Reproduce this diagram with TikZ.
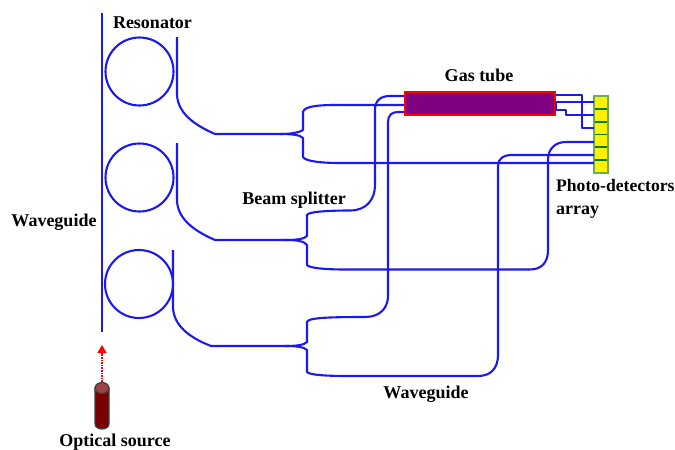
\documentclass[tikz,border=0pt]{standalone}
\usepackage{fontspec}
\setmainfont{Liberation Serif}
\usetikzlibrary{arrows.meta,shapes.geometric}
\definecolor{wg}{HTML}{1A1AF0}
\definecolor{tubefill}{HTML}{800080}
\definecolor{srcred}{HTML}{7A0000}
\definecolor{srctop}{HTML}{A04048}
\definecolor{cellline}{HTML}{0A7A0A}
\definecolor{celledge}{HTML}{70AD47}
\tikzset{
  guide/.style={draw=wg,line width=2.1pt,line join=round},
  lab/.style={font=\fontsize{18}{20}\selectfont\bfseries,text=black,inner sep=0pt},
  ring/.style={circle,draw=wg,line width=2.1pt,minimum size=68pt,inner sep=0pt},
  cell/.style={draw=cellline,fill=yellow,line width=1.8pt,minimum width=14pt,minimum height=12.8pt,inner sep=0pt}
}
\begin{document}
\begin{tikzpicture}[x=1pt,y=-1pt]
\useasboundingbox (0,0) rectangle (675,450);
% coordinates
\coordinate (wtop) at (102,13); \coordinate (wbot) at (102,332);
% rings
\node[ring] (r1) at (139.5,71.5) {};
\node[ring] (r2) at (139.5,177.5) {};
\node[ring] (r3) at (139,284) {};
\draw[guide] (wtop) -- (wbot);
% detector
\foreach \i/\y in {1/102.4,2/115.3,3/128.1,4/140.9,5/153.8,6/166.6}{
  \node[cell] (d\i) at (601,\y) {};
}
\draw[celledge,line width=1.6pt] (594,96) rectangle (608,173);
% tube ports
\node[draw=red,fill=tubefill,line width=2pt,minimum width=150pt,minimum height=23pt,inner sep=0pt] (tube) at (480,103) {};
% bus 1
\draw[guide] (177,37) -- (177,95) .. controls (178,112) and (192,124) .. (215,134) -- (280,134)
  .. controls (293,134) and (300,132) .. (303,130) -- (303,112) .. controls (304,107) and (315,105) .. (335,105) -- (404,105);
\draw[guide] (280,134) .. controls (293,134) and (300,135) .. (303,138) -- (303,157)
  .. controls (305,161) and (320,163) .. (340,163) -- (594,163);
% bus 2
\draw[guide] (177,143) -- (177,201) .. controls (178,218) and (192,230) .. (215,240) -- (285,240)
  .. controls (297,240) and (304,239) .. (307,236) -- (307,215) .. controls (308,212) and (325,210.5) .. (350,210.5)
  .. controls (366,210.5) and (375,200) .. (375,185) -- (375,110) .. controls (375,101) and (380,96) .. (390,96) -- (404,96);
\draw[guide] (285,240) .. controls (297,240) and (304,241) .. (307,245) -- (307,265)
  .. controls (309,268) and (325,269.5) .. (345,269.5) -- (530,269.5)
  .. controls (542,269.5) and (548,262) .. (548,250) -- (548,160) .. controls (548,149) and (555,142) .. (566,142) -- (594,142);
% bus 3
\draw[guide] (173,250) -- (173,308) .. controls (174,325) and (188,337) .. (211,346) -- (285,346)
  .. controls (297,346) and (304,345) .. (307,342) -- (307,322) .. controls (308,318) and (325,317) .. (365,317)
  .. controls (380,317) and (388,308) .. (388,296) -- (388,122) .. controls (388,115) and (392,112) .. (398,112) -- (404,112);
\draw[guide] (285,346) .. controls (297,346) and (304,347) .. (307,350) -- (307,372)
  .. controls (310,375) and (325,376) .. (350,376) -- (478,376)
  .. controls (491,376) and (498,368) .. (498,355) -- (498,166) .. controls (498,159) and (503,155) .. (512,155) -- (594,155);
% tube to detector
\draw[guide] (556,95) -- (582,95) -- (582,128) -- (594,128);
\draw[guide] (556,102) -- (594,102);
\draw[guide] (556,102) -- (556,110) -- (566,110) -- (566,115) -- (594,115);
% source
\fill[srcred,draw=black!75,line width=1.2pt] (95,388) -- (95,424) arc[start angle=180,end angle=360,x radius=7pt,y radius=5pt] -- (109,388) -- cycle;
\node[ellipse,minimum width=14pt,minimum height=11pt,inner sep=0pt,fill=srctop,draw=black!75,line width=1.2pt] (src) at (102,388) {};
\coordinate (atip) at (102,345);
\draw[red,line width=1.6pt,densely dotted,-{Triangle[width=9pt,length=8pt,fill=red]}] (src.north) -- (atip);
% labels
\node[lab] (tres) at (152.5,23) {Resonator};
\node[lab] (twg1) at (54,222.5) {Waveguide};
\node[lab] (tbs) at (294,200.5) {Beam splitter};
\node[lab] (tgas) at (479,75) {Gas tube};
\node[lab,anchor=base west,font=\fontsize{17.6}{20}\selectfont\bfseries] (tpd) at (556,191) {Photo-detectors};
\node[lab,anchor=base west] (tarr) at (556,214) {array};
\node[lab] (twg2) at (426,394) {Waveguide};
\node[lab] (tos) at (115,442.5) {Optical source};
\end{tikzpicture}
\end{document}
